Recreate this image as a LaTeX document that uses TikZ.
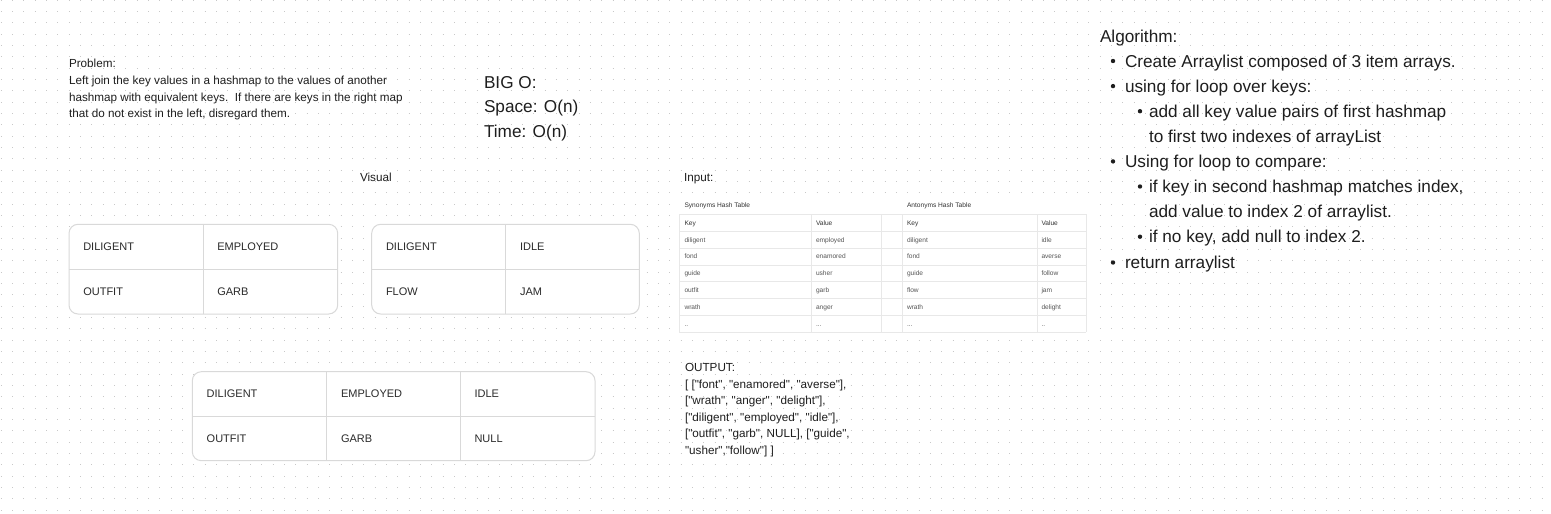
\documentclass[tikz,border=0pt]{standalone}
\usepackage{fontspec}
\setmainfont{Liberation Sans}
\newfontfamily\outfont{Liberation Sans}
\definecolor{ink}{HTML}{1E1E1E}
\definecolor{cellink}{HTML}{2A2A2A}
\definecolor{dotc}{HTML}{C8C8C8}
\definecolor{tabc}{HTML}{D9D9D9}
\definecolor{gridc}{HTML}{E8E8E8}
\definecolor{smallink}{HTML}{555555}
\definecolor{headink}{HTML}{333333}
\newcommand\fsProb{\fontsize{11.7pt}{14pt}\selectfont}
\newcommand\fsOut{\outfont\fontsize{11.7pt}{14pt}\selectfont}
\newcommand\fsBig{\fontsize{17.2pt}{20pt}\selectfont}
\newcommand\fsCell{\fontsize{11pt}{13pt}\selectfont}
\newcommand\fsTiny{\fontsize{6.6pt}{8pt}\selectfont}
\begin{document}
\begin{tikzpicture}[x=1pt,y=-1pt,
  every node/.style={inner sep=0pt, outer sep=0pt, text=ink},
  txt/.style={anchor=base west, font=\fsProb},
  outtxt/.style={anchor=base west, font=\fsOut},
  big/.style={anchor=base west, font=\fsBig},
  cell/.style={anchor=base west, font=\fsCell, text=cellink},
  tiny/.style={anchor=base west, font=\fsTiny, text=smallink},
  tinyhead/.style={anchor=base west, font=\fsTiny, text=headink},
  tabline/.style={draw=tabc, line width=1pt},
  gridline/.style={draw=gridc, line width=0.8pt},
  dotline/.style={draw=dotc, line width=1pt, dash pattern=on 1pt off 10.33pt},
  bul/.style={circle, fill=ink, minimum size=4.4pt}]
\useasboundingbox (0,0) rectangle (1551,514);
\fill[white] (0,0) rectangle (1551,514);
% dot grid
\foreach \r in {0,...,45} {
  \draw[dotline] (0.8,{0.3+\r*11.33}) -- (1551,{0.3+\r*11.33});
}
% problem
\node[txt] (p0) at (69,67.8) {Problem:};
\node[txt] (p1) at (69,84.6) {Left join the key values in a hashmap to the values of another};
\node[txt] (p2) at (69,101.2) {hashmap with equivalent keys.\ \ If there are keys in the right map};
\node[txt] (p3) at (69,117.8) {that do not exist in the left, disregard them.};
% big O
\node[big] (o0) at (484,88) {BIG O:};
\node[big] (o1) at (484,112.8) {Space: O(n)};
\node[big] (o2) at (484,137) {Time: O(n)};
% labels
\node[txt] (vis) at (360,181.2) {Visual};
\node[txt] (inp) at (684,181.2) {Input:};
% visual table 1
\draw[tabline, fill=white, rounded corners=9pt] (69,224.3) rectangle (337.7,314);
\draw[tabline] (203.3,224.3) -- (203.3,314);
\draw[tabline] (69,269) -- (337.7,269);
\node[cell] (t1a) at (83.3,250.6) {DILIGENT};
\node[cell] (t1b) at (217.3,250.6) {EMPLOYED};
\node[cell] (t1c) at (83.3,295.5) {OUTFIT};
\node[cell] (t1d) at (217.3,295.5) {GARB};
% visual table 2
\draw[tabline, fill=white, rounded corners=9pt] (371.7,224.3) rectangle (639.3,314);
\draw[tabline] (505.7,224.3) -- (505.7,314);
\draw[tabline] (371.7,269) -- (639.3,269);
\node[cell] (t2a) at (386,250.6) {DILIGENT};
\node[cell] (t2b) at (520,250.6) {IDLE};
\node[cell] (t2c) at (386,295.5) {FLOW};
\node[cell] (t2d) at (520,295.5) {JAM};
% visual table 3
\draw[tabline, fill=white, rounded corners=9pt] (192.3,371.7) rectangle (595,460.7);
\draw[tabline] (326.7,371.7) -- (326.7,460.7);
\draw[tabline] (460.7,371.7) -- (460.7,460.7);
\draw[tabline] (192.3,416) -- (595,416);
\node[cell] (t3a) at (206.7,397.8) {DILIGENT};
\node[cell] (t3b) at (341,397.8) {EMPLOYED};
\node[cell] (t3c) at (474.5,397.8) {IDLE};
\node[cell] (t3d) at (206.7,442.4) {OUTFIT};
\node[cell] (t3e) at (341,442.4) {GARB};
\node[cell] (t3f) at (474.5,442.4) {NULL};
% input table image
\fill[white] (676,196) rectangle (1089,336);
\foreach \yy in {214.3,231.2,248.1,265,281.8,298.7,315.6,332.4} {
  \draw[gridline] (679,\yy) -- (1086,\yy);
}
\foreach \xx in {679,811.5,881,902,1037,1086} {
  \draw[gridline] (\xx,214.3) -- (\xx,332.4);
}
\node[tinyhead] (syn) at (684.5,207.6) {Synonyms Hash Table};
\node[tinyhead] (ant) at (907,207.6) {Antonyms Hash Table};
\node[tinyhead] (k1) at (684.5,225.2) {Key};
\node[tinyhead] (v1) at (816,225.2) {Value};
\node[tinyhead] (k2) at (907,225.2) {Key};
\node[tinyhead] (v2) at (1041.5,225.2) {Value};
\foreach \i/\a/\b/\c/\d in {1/diligent/employed/diligent/idle,
  2/fond/enamored/fond/averse,
  3/guide/usher/guide/follow,
  4/outfit/garb/flow/jam,
  5/wrath/anger/wrath/delight} {
  \node[tiny] (sa\i) at (684.5,{225.2+\i*16.88}) {\a};
  \node[tiny] (sb\i) at (816,{225.2+\i*16.88}) {\b};
  \node[tiny] (ac\i) at (907,{225.2+\i*16.88}) {\c};
  \node[tiny] (ad\i) at (1041.5,{225.2+\i*16.88}) {\d};
}
\node[tiny] (sa6) at (684.5,326.5) {..};
\node[tiny] (sb6) at (816,326.5) {...};
\node[tiny] (ac6) at (907,326.5) {...};
\node[tiny] (ad6) at (1041.5,326.5) {..};
% output
\node[txt] (out0) at (685,371.2) {OUTPUT:};
\node[outtxt] (out1) at (685,388) {[ ["font", "enamored", "averse"],};
\node[outtxt] (out2) at (685,404.6) {["wrath", "anger", "delight"],};
\node[outtxt] (out3) at (685,421.2) {["diligent", "employed", "idle"],};
\node[outtxt] (out4) at (685,437.9) {["outfit", "garb", NULL], ["guide",};
\node[outtxt] (out5) at (685,454.6) {"usher","follow"] ]};
% algorithm
\node[big] (al0) at (1100,42) {Algorithm:};
\node[bul] (bu1) at (1113,61) {};
\node[big] (al1) at (1125,67) {Create Arraylist composed of 3 item arrays.};
\node[bul] (bu2) at (1113,86.1) {};
\node[big] (al2) at (1125,92.1) {using for loop over keys:};
\node[bul] (bu3) at (1140,111.2) {};
\node[big] (al3) at (1149,117.2) {add all key value pairs of first hashmap};
\node[big] (al4) at (1149,142.3) {to first two indexes of arrayList};
\node[bul] (bu5) at (1113,161.4) {};
\node[big] (al5) at (1125,167.4) {Using for loop to compare:};
\node[bul] (bu6) at (1140,186.5) {};
\node[big] (al6) at (1149,192.5) {if key in second hashmap matches index,};
\node[big] (al7) at (1149,217.6) {add value to index 2 of arraylist.};
\node[bul] (bu8) at (1140,236.7) {};
\node[big] (al8) at (1149,242.7) {if no key, add null to index 2.};
\node[bul] (bu9) at (1113,262.5) {};
\node[big] (al9) at (1125,268.5) {return arraylist};
\end{tikzpicture}
\end{document}
